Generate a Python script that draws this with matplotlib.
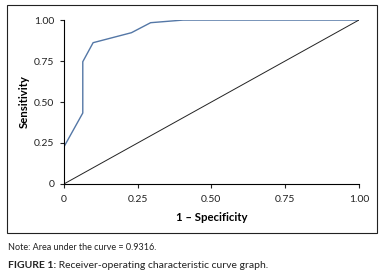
import matplotlib
matplotlib.use("Agg")
import matplotlib.pyplot as plt
from matplotlib.patches import Rectangle

plt.rcParams['font.family'] = ['Lato', 'DejaVu Sans']

# ROC curve
fpr = [0.0, 0.064, 0.064, 0.099, 0.229, 0.294, 0.404, 1.0]
tpr = [0.226, 0.433, 0.746, 0.862, 0.923, 0.984, 1.0, 1.0]
ref_x = [0.0, 1.0]
ref_y = [0.0, 1.0]

tick_vals = [0, 0.25, 0.50, 0.75, 1.00]
tick_labels = ['0', '0.25', '0.50', '0.75', '1.00']

fig = plt.figure(figsize=(3.85, 2.75), dpi=100)
ax = fig.add_axes([0.166, 0.331, 0.766, 0.596])

ax.plot(fpr, tpr, color='#5477a6', lw=1.0)
ax.plot(ref_x, ref_y, color='#222222', lw=0.7)

ax.set_xlim(0, 1)
ax.set_ylim(0, 1)
ax.set_xticks(tick_vals)
ax.set_xticklabels(tick_labels)
ax.set_yticks(tick_vals)
ax.set_yticklabels(tick_labels)
ax.tick_params(labelsize=7.5, length=3, width=0.8, colors='#222222')
ax.tick_params(axis='x', pad=5)
ax.tick_params(axis='y', pad=4)
for s in ['top', 'right']:
    ax.spines[s].set_visible(False)
for s in ['left', 'bottom']:
    ax.spines[s].set_linewidth(0.8)
ax.set_xlabel('1 – Specificity', fontsize=8.2, fontweight='bold', labelpad=6)
ax.set_ylabel('Sensitivity', fontsize=8.2, fontweight='bold', labelpad=3)

# outer frame
fig.patches.append(Rectangle((7 / 385, 1 - 233 / 275), 370 / 385, 228 / 275,
                             transform=fig.transFigure, fill=False,
                             edgecolor='#222222', lw=0.8))

fig.text(8 / 385, 1 - 248 / 275, 'Note: Area under the curve = 0.9316.',
         fontsize=6.5, va='center', ha='left', color='#222222')
lab = fig.text(8 / 385, 1 - 266 / 275, 'FIGURE 1:', fontsize=7.5,
               fontweight='bold', va='center', ha='left', color='#222222')
fig.canvas.draw()
ax.annotate(' Receiver-operating characteristic curve graph.', xy=(1, 0.5),
            xycoords=lab, va='center', ha='left', fontsize=7.5, color='#222222')

fig.savefig('out.png', dpi=100)
